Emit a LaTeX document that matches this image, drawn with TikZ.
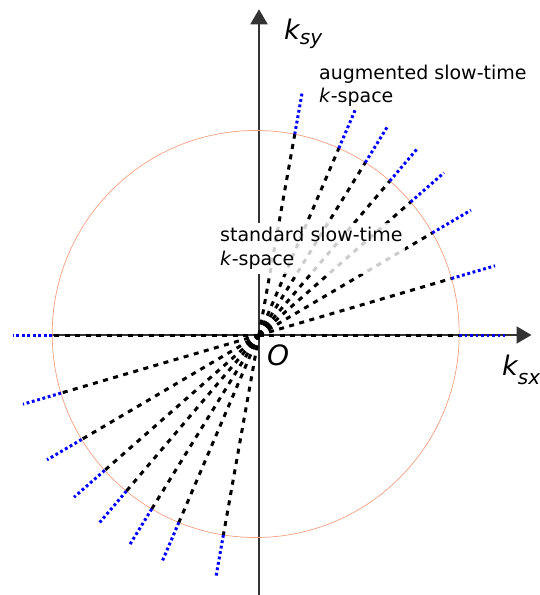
\documentclass[tikz,border=0pt]{standalone}
\usepackage{fontspec}
\setmainfont{DejaVu Sans}
\usetikzlibrary{arrows.meta}
\definecolor{axisgray}{HTML}{333333}
\definecolor{circ}{HTML}{F4A080}
\begin{document}
\begin{tikzpicture}[x=1pt,y=1pt,
  axisline/.style={draw=axisgray, line width=2pt, -{Triangle[width=17pt,length=15pt]}},
  raydash/.style={black, line width=3pt, dash pattern=on 5pt off 5.5pt},
  raydot/.style={blue, line width=3pt, dash pattern=on 2.8pt off 2.7pt},
  lbl/.style={inner sep=0pt, anchor=base west, font=\fontsize{19}{23}\selectfont, text=black}]
\useasboundingbox (-259,-260) rectangle (281,335);
\coordinate (O) at (0,0);
\coordinate (xs) at (-209,0);
\coordinate (xe) at (272.5,0);
\coordinate (ys) at (0,-262);
\coordinate (ye) at (0,325.7);
\draw[axisline] (xs) -- (xe);
\draw[axisline] (ys) -- (ye);
\draw[circ, line width=0.7pt] (-3.3,1) circle (203.5);
\fill[white] (-41,61) rectangle (146,112);
\foreach \a in {0,16.35,30.5,41.25,49.65,58.35,66.85,79.9,180,196.35,210.5,221.25,229.65,238.35,246.85,259.9}{
  \pgfmathsetmacro\du{0.033*cos(\a)-0.01*sin(\a)}
  \pgfmathsetmacro\rc{100*(-\du+sqrt(\du*\du+4.14))}
  \draw[raydash] (O) -- (\a:\rc);
  \draw[raydot] (\a:\rc) -- (\a:246);
}
\fill[white, fill opacity=0.8] (-41,61) rectangle (146,112);
\node[lbl] (aug1) at (60,255) {augmented slow-time};
\node[lbl] (aug2) at (60,232) {\textit{k}-space};
\node[lbl] (std1) at (-39,93.3) {standard slow-time};
\node[lbl] (std2) at (-39,70) {\textit{k}-space};
\node[inner sep=0pt, anchor=base west] (ksy) at (25,295.7) {\fontsize{27}{27}\selectfont\itshape k\raisebox{-5pt}{\fontsize{20}{20}\selectfont sy}};
\node[inner sep=0pt, anchor=base west] (ksx) at (243,-40) {\fontsize{27}{27}\selectfont\itshape k\raisebox{-9pt}{\fontsize{20}{20}\selectfont sx}};
\node[inner sep=0pt, anchor=base west] (orig) at (8,-30) {\fontsize{28}{28}\selectfont\itshape O};
\end{tikzpicture}
\end{document}
